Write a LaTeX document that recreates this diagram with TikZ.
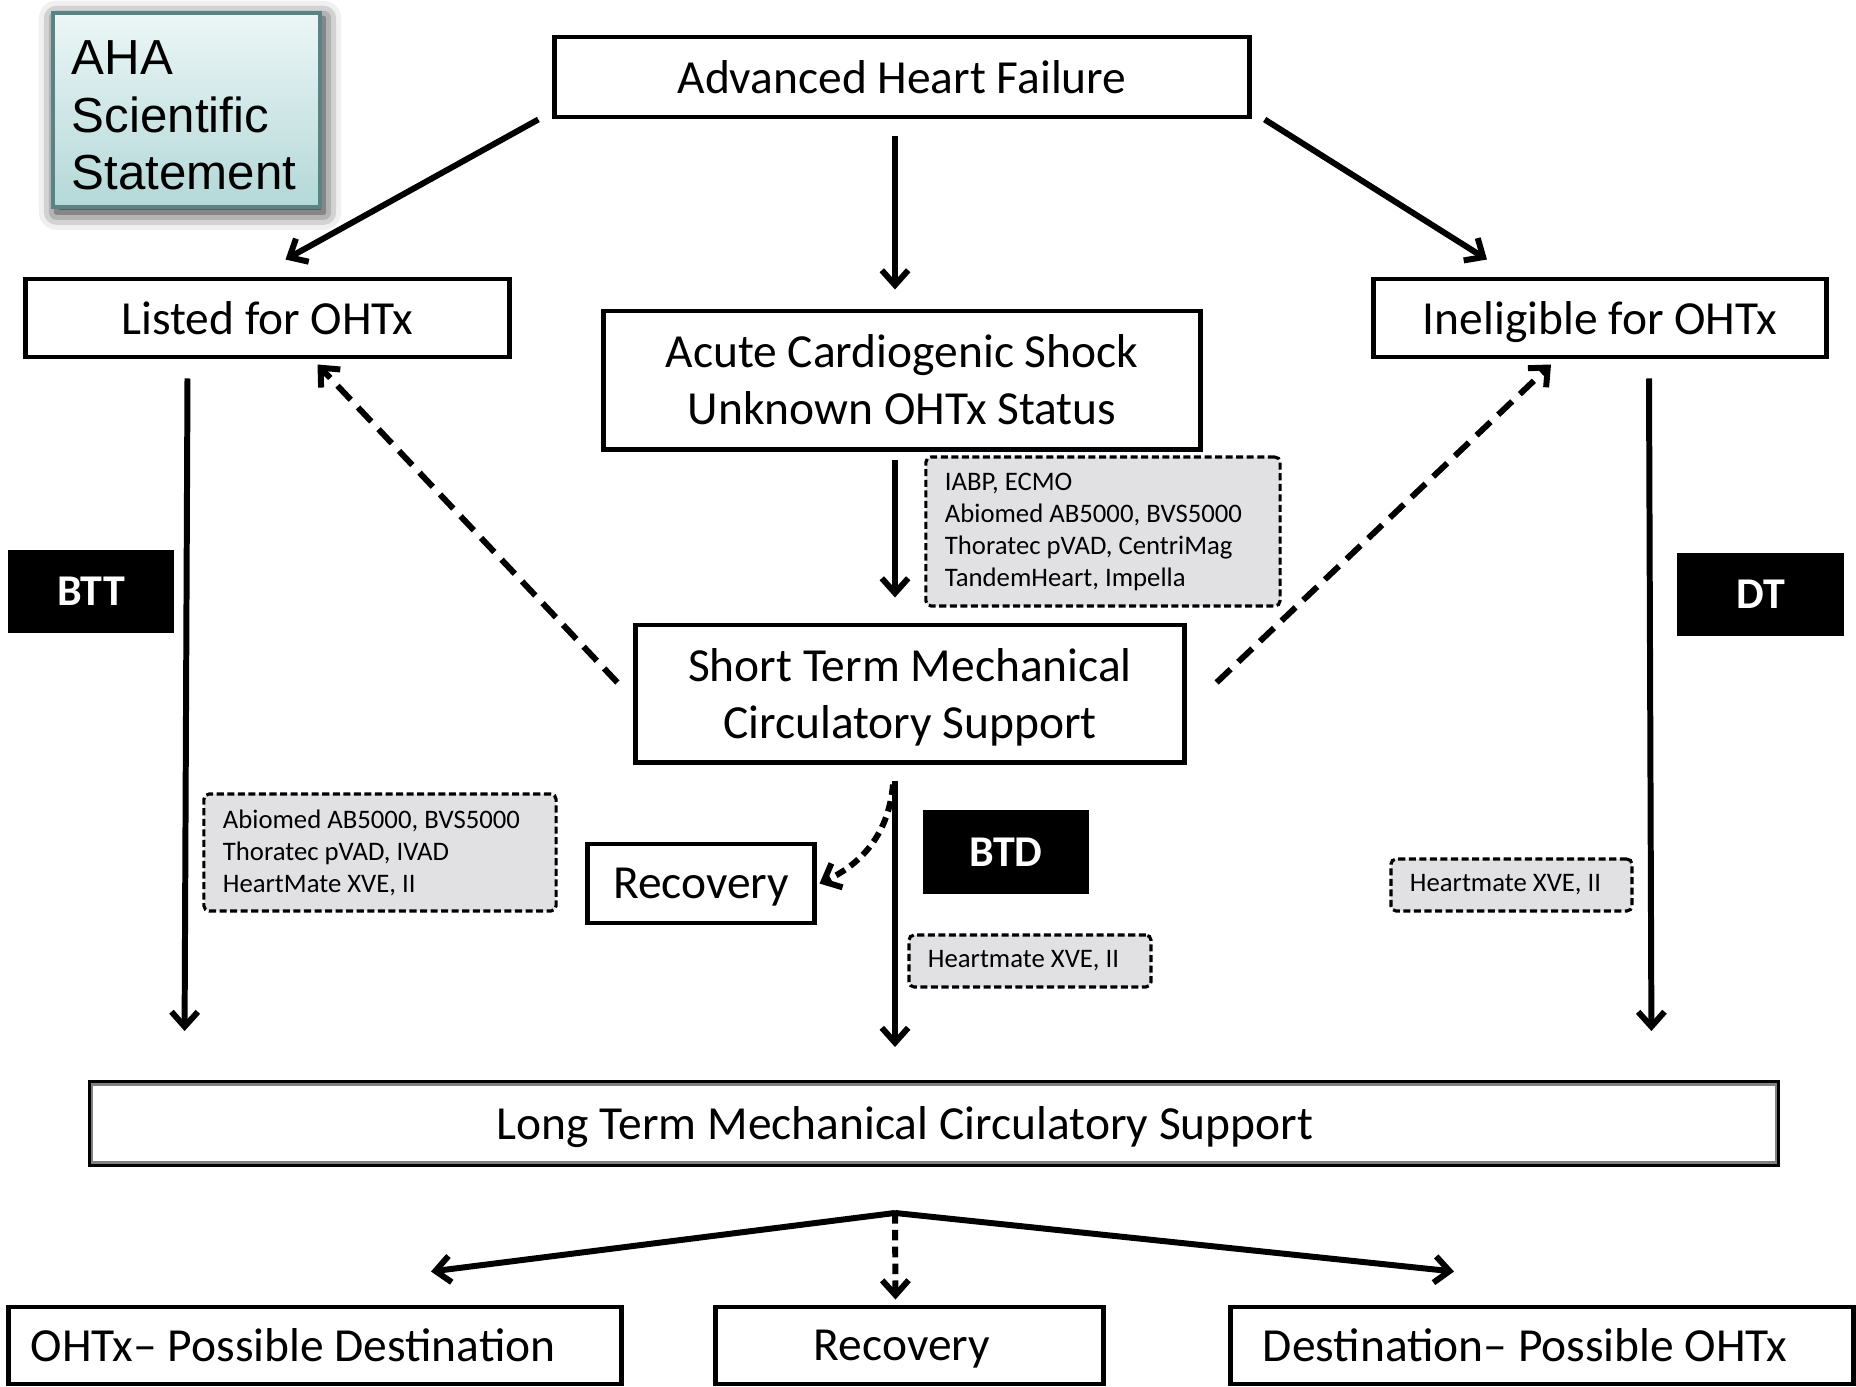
\documentclass[tikz,border=0pt]{standalone}
\usepackage{fontspec}
\setmainfont{Carlito}
\newfontfamily\ahafont{Liberation Sans}
\usetikzlibrary{arrows.meta,calc,shadows.blur}

\definecolor{boxgray}{RGB}{225,225,227}
\definecolor{ahatop}{RGB}{236,246,246}
\definecolor{ahabot}{RGB}{180,216,216}
\definecolor{ahaedge}{RGB}{90,132,132}

\tikzset{
  mainbox/.style={draw, line width=1.4pt, align=center, inner sep=0pt,
    font=\fontsize{13.5}{16.2}\selectfont},
  endbox/.style={mainbox, align=flush left, inner ysep=0pt},
  devbox/.style={draw, line width=0.9pt, dash pattern=on 2pt off 1pt, fill=boxgray,
    rounded corners=1.5pt, align=flush left, inner xsep=0.19cm, inner ysep=0pt,
    font=\fontsize{7.6}{9.1}\selectfont},
  rolebox/.style={fill=black, text=white, inner sep=0pt, minimum width=1.66cm,
    minimum height=0.83cm, font=\fontsize{12.5}{15}\selectfont\bfseries},
  arr/.style={line width=1.7pt, -{Straight Barb[length=4.2pt,width=7.5pt]}},
  dasharr/.style={arr, dash pattern=on 5.5pt off 3pt},
  shortdash/.style={arr, dash pattern=on 3pt off 1.8pt}
}

\begin{document}
\begin{tikzpicture}[x=0.01cm, y=-0.01cm]
\useasboundingbox (0,0) rectangle (1856,1387);

% badge
\node[draw=ahaedge, line width=1pt, top color=ahatop, bottom color=ahabot,
  blur shadow={shadow xshift=1pt, shadow yshift=-1.5pt, shadow blur radius=5pt, shadow opacity=95},
  text width=2.29cm, inner xsep=0.19cm, minimum height=1.94cm, align=flush left,
  font=\ahafont\fontsize{14}{16.4}\selectfont] (aha) at (186.5,110) {\rule{0pt}{12.8pt}AHA\\Scientific\\Statement};

% boxes
\node[mainbox, minimum width=6.94cm, minimum height=0.80cm] (ahf) at (902,77) {Advanced Heart Failure};
\node[mainbox, minimum width=4.83cm, minimum height=0.78cm] (listed) at (267.5,318) {Listed for OHTx};
\node[mainbox, text depth=0pt, minimum width=4.52cm, minimum height=0.78cm] (inel) at (1600,318) {Ineligible for OHTx};
\node[mainbox, minimum width=5.96cm, minimum height=1.38cm] (acute) at (902,380) {Acute Cardiogenic Shock\\Unknown OHTx Status};
\node[mainbox, text depth=0pt, minimum width=5.48cm, minimum height=1.37cm] (stmcs) at (910,693.5) {Short Term Mechanical\\Circulatory Support};
\node[mainbox, text depth=0pt, minimum width=2.26cm, minimum height=0.79cm] (recov) at (701,883.5) {Recovery};
\node[endbox, text depth=0pt, line width=1.1pt, text width=8.74cm, inner xsep=4.07cm, minimum height=0.83cm] (lt) at (934,1123.5) {Long Term Mechanical Circulatory Support};
\draw[gray, line width=0.6pt] ($(lt.north west)+(4.5,4.5)$) rectangle ($(lt.south east)+(-4.5,-4.5)$);
\node[endbox, text width=5.68cm, inner xsep=0.22cm, minimum height=0.77cm] (ohtx) at (315,1345.5) {OHTx– Possible Destination};
\node[endbox, text depth=0pt, text width=1.91cm, inner xsep=0.98cm, minimum height=0.77cm] (recov2) at (909.5,1345.5) {Recovery};
\node[endbox, text width=5.58cm, inner xsep=0.32cm, minimum height=0.77cm] (dest) at (1542,1345.5) {Destination– Possible OHTx};

% strategy labels
\node[rolebox] (btt) at (91,591.5) {BTT};
\node[rolebox] (dt) at (1760.5,594.5) {DT};
\node[rolebox] (btd) at (1006,852) {BTD};

% device lists
\node[devbox, text width=3.16cm, minimum height=1.49cm] (acutedev) at (1103,531.5) {IABP, ECMO\\Abiomed AB5000, BVS5000\\Thoratec pVAD, CentriMag\\TandemHeart, Impella};
\node[devbox, text width=3.14cm, minimum height=1.17cm] (bttdev) at (380,852.5) {Abiomed AB5000, BVS5000\\Thoratec pVAD, IVAD\\HeartMate XVE, II};
\node[devbox, text width=2.04cm, minimum height=0.52cm] (btddev) at (1030,961) {Heartmate XVE, II};
\node[devbox, text width=2.03cm, minimum height=0.52cm] (dtdev) at (1511.5,885) {Heartmate XVE, II};

% arrows
\draw[arr] ($(ahf.south west)+(-14,0)$) -- ($(listed.north)+(18,-17)$);
\draw[arr] ($(ahf.south)+(-7,17)$) -- ($(acute.north)+(-7,-19)$);
\draw[arr] ($(ahf.south east)+(13,0)$) -- ($(inel.north)+(-113,-17)$);
\draw[arr] ($(acute.south)+(-7,8)$) -- ($(stmcs.north)+(-15,-25)$);
\draw[dasharr] ($(stmcs.west)+(-16,-11)$) -- ($(listed.south)+(50,5)$);
\draw[dasharr] ($(stmcs.east)+(30,-11)$) -- ($(inel.south)+(-49,5)$);
\draw[arr] ($(listed.south)+(-80,19)$) -- ($(lt.north west)+(97,-49)$);
\draw[arr] ($(inel.south)+(49,19)$) -- ($(lt.north east)+(-129,-49)$);
\draw[arr] ($(stmcs.south)+(-15,16)$) -- ($(lt.north)+(-39,-33)$);
\draw[shortdash] ($(stmcs.south)+(-17,20)$) to[out=-95,in=25] ($(recov.east)+(3,0)$);
\coordinate (fork) at ($(lt.south)+(-39,46)$);
\draw[arr] (fork) -- ($(ohtx.north)+(116,-33)$);
\draw[shortdash] (fork) -- ($(recov2.north)+(-14,-5)$);
\draw[arr] (fork) -- ($(dest.north)+(-88,-33)$);
\end{tikzpicture}
\end{document}
